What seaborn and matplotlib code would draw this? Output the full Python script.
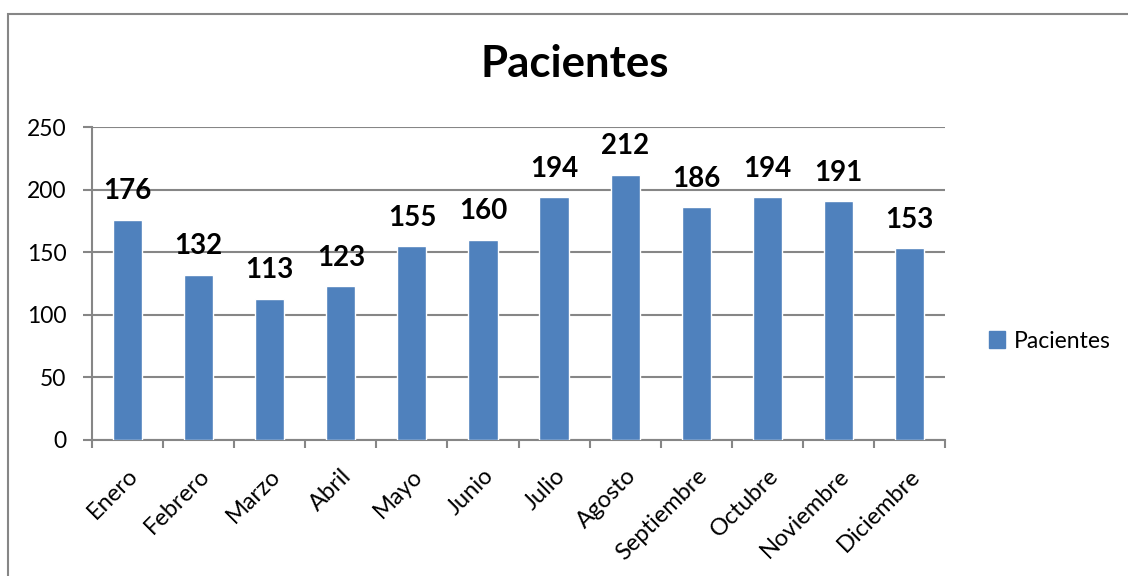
import matplotlib
matplotlib.use("Agg")
import matplotlib.pyplot as plt
import seaborn as sns
import pandas as pd
from matplotlib.patches import Rectangle, Patch

months = ["Enero", "Febrero", "Marzo", "Abril", "Mayo", "Junio", "Julio",
          "Agosto", "Septiembre", "Octubre", "Noviembre", "Diciembre"]
pacientes = [176, 132, 113, 123, 155, 160, 194, 212, 186, 194, 191, 153]
yticks = [0, 50, 100, 150, 200, 250]

sns.set_style("white")
plt.rcParams['font.family'] = ['Lato', 'DejaVu Sans']
plt.rcParams['text.color'] = 'black'
plt.rcParams['xtick.color'] = 'black'
plt.rcParams['ytick.color'] = 'black'

df = pd.DataFrame({"Mes": months, "Pacientes": pacientes})
bar_color = "#4F81BD"
grid_color = "#868686"

fig = plt.figure(figsize=(11.28, 5.76), dpi=100)
ax = fig.add_axes([92/1128, 1-440/576, (945-92)/1128, (440-127)/576])

sns.barplot(data=df, x="Mes", y="Pacientes", color=bar_color, width=0.41,
            saturation=1, ax=ax, zorder=3)

ax.set_ylim(0, 250)
ax.set_xlim(-0.5, len(months) - 0.5)
ax.set_yticks(yticks)
ax.set_yticklabels([str(v) for v in yticks], fontsize=16.5)
ax.set_xlabel("")
ax.set_ylabel("")
ax.yaxis.grid(True, color=grid_color, linewidth=1.5, zorder=0)
ax.xaxis.grid(False)
for s in ["top", "right"]:
    ax.spines[s].set_visible(False)
for s in ["left", "bottom"]:
    ax.spines[s].set_color(grid_color)
    ax.spines[s].set_linewidth(1.5)

ax.tick_params(axis="y", which="major", length=6.5, width=1.5, color=grid_color,
               labelcolor="black", direction="out", left=True, pad=12)
ax.set_xticks(range(len(months)))
ax.set_xticklabels(months, rotation=45, ha="right", rotation_mode="anchor",
                   fontsize=17)
ax.tick_params(axis="x", which="major", length=0, pad=18, labelcolor="black")
ax.set_xticks([i - 0.5 for i in range(len(months) + 1)], minor=True)
ax.tick_params(axis="x", which="minor", length=6, width=1.5, color=grid_color,
               direction="out", bottom=True)

for c in ax.containers:
    ax.bar_label(c, labels=[str(v) for v in pacientes], padding=11,
                 fontsize=20, fontweight="bold", color="black")

fig.text(575/1128, 1-64/576, "Pacientes", ha="center", va="center",
         fontsize=31.5, fontweight="bold", color="black")

handle = Patch(facecolor=bar_color, edgecolor=bar_color)
fig.legend([handle], ["Pacientes"], loc="center left",
           bbox_to_anchor=(968/1128, 1-341/576), frameon=False, fontsize=16.5,
           handlelength=0.7, handleheight=0.7, handletextpad=0.4,
           labelcolor="black")

fig.patches.append(Rectangle((8/1128, -0.1), 1.2, 1-14/576+0.1,
                             transform=fig.transFigure, fill=False,
                             edgecolor=grid_color, linewidth=1.5))

fig.savefig("out.png", dpi=100)
